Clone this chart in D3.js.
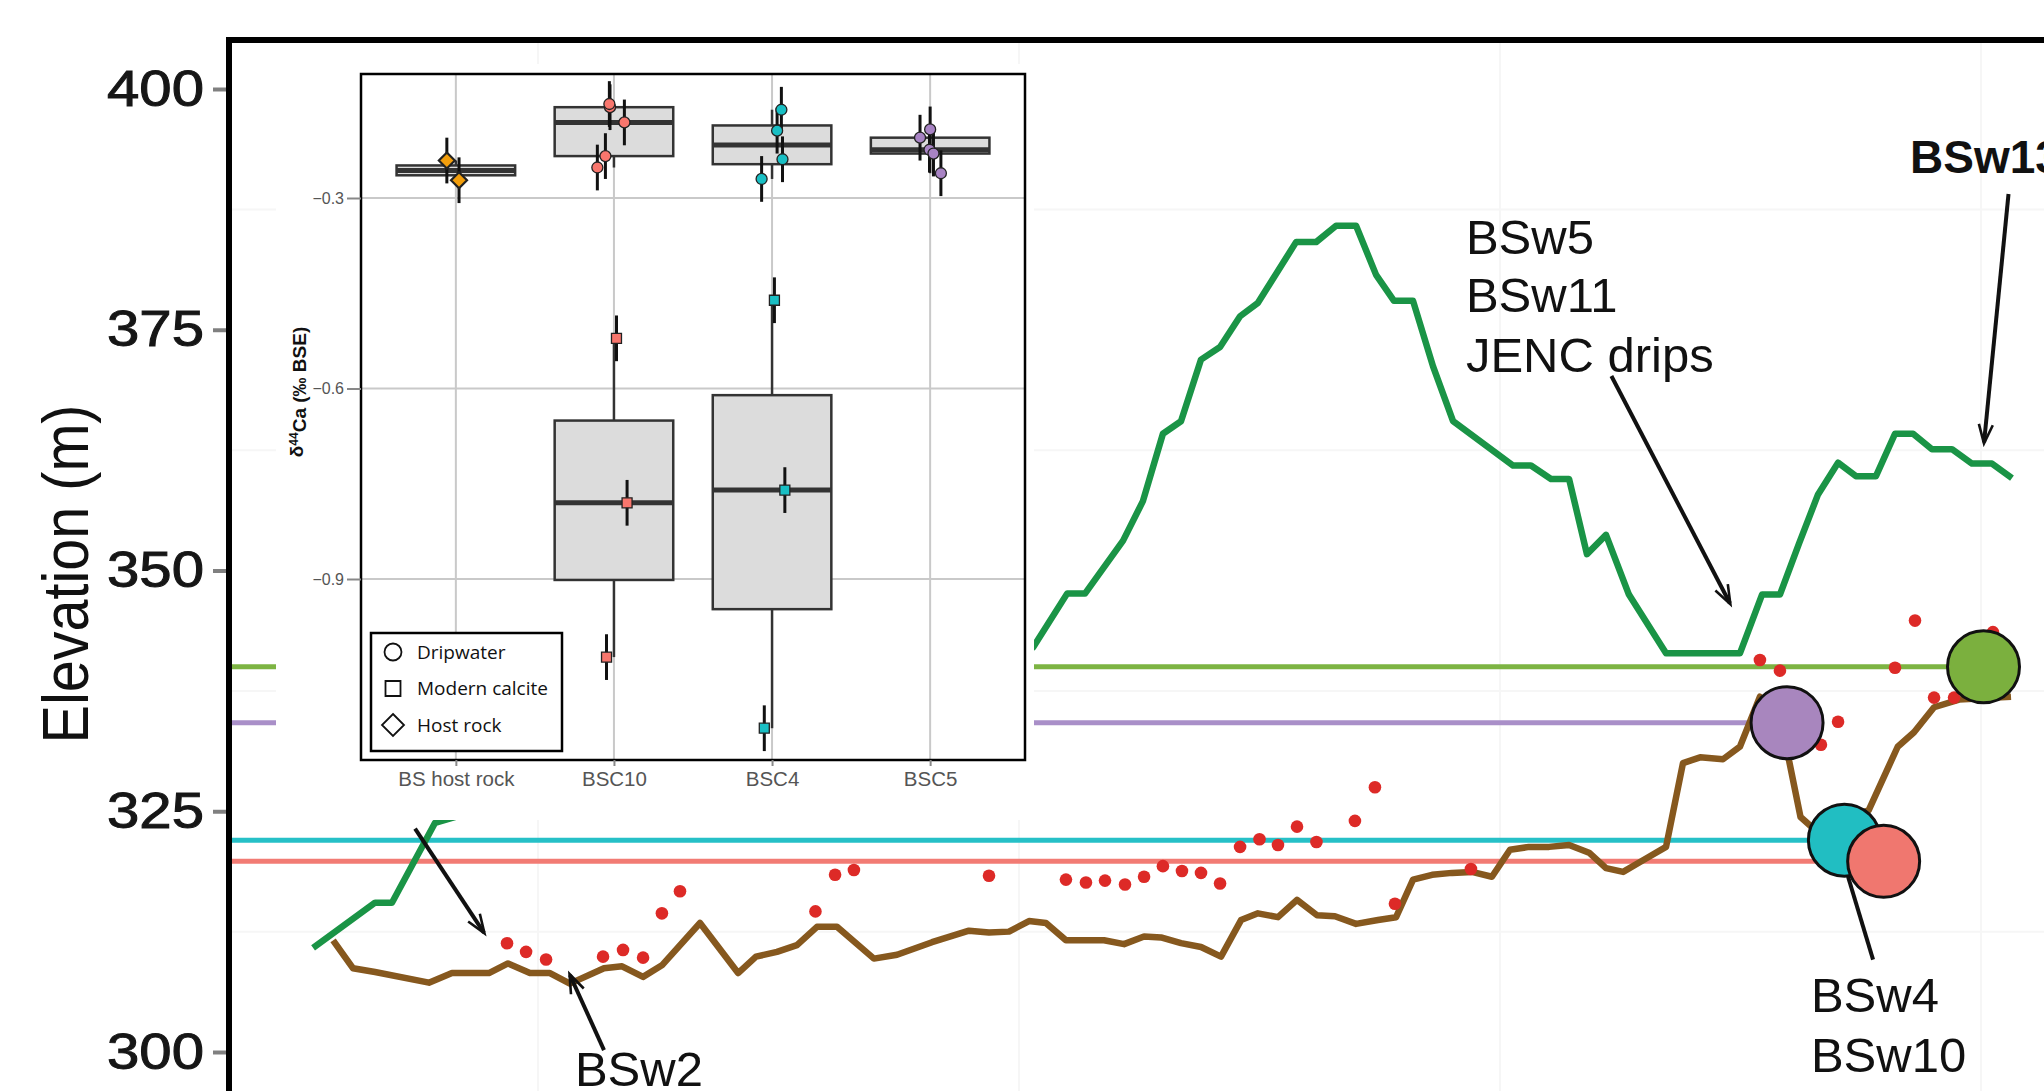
<!DOCTYPE html>
<html>
<head>
<meta charset="utf-8">
<script src="https://cdn.jsdelivr.net/npm/d3@7"></script>
<style>
  body { margin: 0; background: #fff; }
  svg { display: block; }
</style>
</head>
<body>
<svg id="chart" width="2044" height="1091"></svg>
<script>
// ---- main profile data (distance along profile, elevation in m) ----
const surfaceProfile = [
  [133.1, 310.8], [165.3, 315.5], [174.1, 315.5], [196.5, 323.8],
  [507.3, 342.0], [525.0, 347.6], [534.3, 347.6], [554.1, 353.1], [564.4, 357.2],
  [574.8, 364.2], [584.2, 365.5], [594.6, 371.9], [604.5, 373.2], [614.9, 376.4],
  [624.2, 377.8], [644.0, 384.1], [654.4, 384.1], [664.8, 385.8], [675.2, 385.8],
  [685.6, 380.7], [694.9, 378.0], [704.8, 378.0], [715.2, 371.2], [725.6, 365.5],
  [756.8, 360.9], [766.1, 360.9], [776.5, 359.5], [785.9, 359.5], [795.2, 351.7],
  [805.1, 353.7], [817.0, 347.5], [836.3, 341.4], [874.7, 341.4], [886.2, 347.5],
  [895.5, 347.5], [905.4, 352.8], [915.3, 357.9], [925.7, 361.2], [935.0, 359.8],
  [945.4, 359.8], [955.3, 364.2], [964.7, 364.2], [974.5, 362.6], [984.9, 362.6],
  [995.3, 361.1], [1005.7, 361.1], [1016.1, 359.6]
];

const caveFloor = [
  [143.5, 311.6], [153.8, 308.7], [165.3, 308.3], [193.3, 307.2], [205.3, 308.2],
  [224.5, 308.2], [234.4, 309.2], [245.8, 308.2], [256.2, 308.2], [266.6, 307.1],
  [284.3, 308.7], [293.7, 308.9], [304.6, 307.8], [314.4, 309.0], [334.2, 313.4],
  [354.0, 308.2], [363.3, 309.9], [374.2, 310.4], [384.6, 311.1], [395.0, 313.0],
  [405.4, 313.0], [424.6, 309.7], [436.6, 310.1], [454.8, 311.4], [474.0, 312.6],
  [484.4, 312.4], [494.8, 312.5], [505.2, 313.6], [514.0, 313.4], [524.4, 311.6],
  [544.2, 311.6], [554.6, 311.2], [565.0, 312.0], [573.8, 311.9], [584.2, 311.3],
  [594.6, 310.9], [605.0, 309.9], [615.4, 313.7], [624.2, 314.4], [634.6, 314.0],
  [644.5, 315.8], [654.9, 314.2], [664.2, 314.1], [675.2, 313.3], [686.6, 313.7],
  [696.0, 314.0], [704.8, 317.9], [714.7, 318.4], [725.1, 318.6], [735.4, 318.7],
  [745.8, 318.2], [755.2, 321.0], [765.1, 321.3], [775.5, 321.3], [785.9, 321.5],
  [796.3, 320.7], [805.1, 319.1], [814.0, 318.7], [825.9, 320.1], [836.3, 321.3],
  [845.1, 330.0], [854.0, 330.6], [865.9, 330.4], [874.7, 331.7], [885.1, 336.9],
  [900.2, 330.3], [906.2, 324.4], [913.5, 323.1], [941.6, 325.1], [956.7, 331.7],
  [965.2, 333.2], [975.6, 335.8], [988.6, 336.6], [1015.6, 336.9]
];

const ceilingPoints = [
  [233.9, 311.3], [243.8, 310.4], [254.2, 309.6], [283.8, 309.9], [294.2, 310.6],
  [304.6, 309.8], [314.4, 314.4], [323.8, 316.7], [394.2, 314.6], [404.4, 318.4],
  [414.2, 318.9], [484.4, 318.3], [524.4, 317.9], [534.8, 317.6], [544.7, 317.8],
  [555.1, 317.4], [565.0, 318.2], [574.8, 319.3], [584.7, 318.8], [594.6, 318.6],
  [604.5, 317.5], [614.9, 321.3], [625.0, 322.1], [634.6, 321.5], [644.5, 323.4],
  [654.6, 321.8], [674.6, 324.0], [685.0, 327.5], [695.4, 315.4], [734.9, 319.0],
  [885.1, 340.7], [895.5, 339.6], [916.8, 331.9], [925.7, 334.3], [955.3, 339.9],
  [965.7, 344.8], [975.6, 336.8], [986.0, 336.8], [1006.2, 343.6]
];

// drip sites: elevation line + marker
const siteNames = ['JENC', 'BSC5', 'BSC4', 'BSC10'];
const siteElev = [340.0, 334.2, 322.0, 319.8];
const siteDist = [1001.3, 899.2, 929.0, 949.4];
const siteColors = ['#7bb03e', '#a886be', '#21bec2', '#f0776f'];
const siteLineColors = ['#7db443', '#a98fc8', '#26c0c7', '#f27b74'];

// annotations (data coords)
const labelText = ['BSw5', 'BSw11', 'JENC drips', 'BSw13', 'BSw2', 'BSw4', 'BSw10'];
const labelPos = [[732.3, 382.9], [732.3, 376.8], [732.3, 370.6], [963.1, 391.3],
                  [269.2, 296.5], [911.6, 304.2], [911.6, 297.9]];
const labelBold = [false, false, false, true, false, false, false];
const arrowFrom = [[807.9, 370.2], [1014.3, 389.1], [284.3, 300.2], [186.1, 323.2]];
const arrowTo = [[869.5, 346.6], [1001.6, 363.3], [266.6, 308.0], [221.9, 312.4]];
const pointerFrom = [[943.9, 309.6]];
const pointerTo = [[930.9, 318.2]];

const elevTicks = [300, 325, 350, 375, 400];
const gridDist = [250, 500, 750, 1000];
const gridElev = [312.5, 337.5, 362.5, 387.5];

// ---- inset data (d44Ca, permil BSE) ----
const insetCats = ['BS host rock', 'BSC10', 'BSC4', 'BSC5'];
const insetColors = { 'BS host rock': '#f29e0c', 'BSC10': '#f8766d', 'BSC4': '#19bfc4', 'BSC5': '#a883c4' };
const insetTicks = [-0.3, -0.6, -0.9];

const hostCat = ['BS host rock', 'BS host rock'];
const hostVal = [-0.241, -0.272];
const hostErr = [0.036, 0.036];
const hostJit = [-0.057, 0.020];

const dripCat = ['BSC10', 'BSC10', 'BSC10', 'BSC10', 'BSC10',
                 'BSC4', 'BSC4', 'BSC4', 'BSC4',
                 'BSC5', 'BSC5', 'BSC5', 'BSC5', 'BSC5'];
const dripVal = [-0.157, -0.152, -0.181, -0.234, -0.252,
                 -0.161, -0.194, -0.239, -0.270,
                 -0.205, -0.192, -0.224, -0.230, -0.261];
const dripErr = [0.036, 0.036, 0.036, 0.036, 0.036,
                 0.036, 0.036, 0.036, 0.036,
                 0.036, 0.036, 0.036, 0.036, 0.036];
const dripJit = [-0.025, -0.029, 0.066, -0.054, -0.105,
                 0.059, 0.032, 0.066, -0.066,
                 -0.064, 0.000, -0.004, 0.021, 0.068];

const calciteCat = ['BSC10', 'BSC10', 'BSC10', 'BSC4', 'BSC4', 'BSC4'];
const calciteVal = [-0.521, -0.780, -1.023, -0.461, -0.760, -1.135];
const calciteErr = [0.036, 0.036, 0.036, 0.036, 0.036, 0.036];
const calciteJit = [0.016, 0.083, -0.047, 0.015, 0.081, -0.049];

const legendLabels = ['Dripwater', 'Modern calcite', 'Host rock'];

document.addEventListener('DOMContentLoaded', function () {
  drawProfile();
  drawInset();
});

const svg = d3.select('#chart');
const FONT = '"Liberation Sans", Arial, Helvetica, sans-serif';

function drawProfile() {
  const left = 229, top = 40, W = 2044, H = 1091;
  const x = d3.scaleLinear().domain([0, 1000]).range([57, 1981]);
  const y = d3.scaleLinear().domain([300, 400]).range([1052, 89]);

  const defs = svg.append('defs');
  defs.append('marker')
    .attr('id', 'arrow')
    .attr('viewBox', '0 0 10 10')
    .attr('refX', 9).attr('refY', 5)
    .attr('markerUnits', 'userSpaceOnUse')
    .attr('markerWidth', 26).attr('markerHeight', 20)
    .attr('orient', 'auto')
    .append('path')
    .attr('d', 'M0,1.5 L9.5,5 L0,8.5')
    .attr('fill', 'none')
    .attr('stroke', '#111')
    .attr('stroke-width', 1.3);

  defs.append('clipPath').attr('id', 'plotClip')
    .append('rect').attr('x', left).attr('y', top).attr('width', W - left).attr('height', H - top);

  const g = svg.append('g').attr('clip-path', 'url(#plotClip)');

  // faint grid
  g.selectAll('.gx').data(gridDist).enter().append('line')
    .attr('x1', d => x(d)).attr('x2', d => x(d))
    .attr('y1', top).attr('y2', H)
    .attr('stroke', '#f6f6f6').attr('stroke-width', 2);
  g.selectAll('.gy').data(gridElev).enter().append('line')
    .attr('x1', left).attr('x2', W)
    .attr('y1', d => y(d)).attr('y2', d => y(d))
    .attr('stroke', '#f6f6f6').attr('stroke-width', 2);

  // drip site elevation lines
  g.selectAll('.siteLine').data(siteNames).enter().append('line')
    .attr('x1', left).attr('x2', (d, i) => x(siteDist[i]))
    .attr('y1', (d, i) => y(siteElev[i])).attr('y2', (d, i) => y(siteElev[i]))
    .attr('stroke', (d, i) => siteLineColors[i])
    .attr('stroke-width', 5);

  const line = d3.line().x(d => x(d[0])).y(d => y(d[1]));

  g.append('path').datum(caveFloor)
    .attr('d', line)
    .attr('fill', 'none')
    .attr('stroke', '#86581e')
    .attr('stroke-width', 6.5)
    .attr('stroke-linejoin', 'round');

  g.append('path').datum(surfaceProfile)
    .attr('d', line)
    .attr('fill', 'none')
    .attr('stroke', '#1a9446')
    .attr('stroke-width', 6.5)
    .attr('stroke-linejoin', 'round');

  g.selectAll('.ceil').data(ceilingPoints).enter().append('circle')
    .attr('cx', d => x(d[0])).attr('cy', d => y(d[1]))
    .attr('r', 6.3)
    .attr('fill', '#dd2a27');

  const order = [0, 1, 2, 3];
  g.selectAll('.site').data(order).enter().append('circle')
    .attr('cx', i => x(siteDist[i])).attr('cy', i => y(siteElev[i]))
    .attr('r', 36)
    .attr('fill', i => siteColors[i])
    .attr('stroke', '#111')
    .attr('stroke-width', 3);

  // annotations
  g.selectAll('.arrow').data(arrowFrom).enter().append('line')
    .attr('x1', d => x(d[0])).attr('y1', d => y(d[1]))
    .attr('x2', (d, i) => x(arrowTo[i][0])).attr('y2', (d, i) => y(arrowTo[i][1]))
    .attr('stroke', '#111').attr('stroke-width', 4)
    .attr('marker-end', 'url(#arrow)');
  g.selectAll('.pointer').data(pointerFrom).enter().append('line')
    .attr('x1', d => x(d[0])).attr('y1', d => y(d[1]))
    .attr('x2', (d, i) => x(pointerTo[i][0])).attr('y2', (d, i) => y(pointerTo[i][1]))
    .attr('stroke', '#111').attr('stroke-width', 4);

  g.selectAll('.lab').data(labelText).enter().append('text')
    .attr('x', (d, i) => x(labelPos[i][0]))
    .attr('y', (d, i) => y(labelPos[i][1]))
    .style('font-family', FONT)
    .style('font-size', (d, i) => labelBold[i] ? '46px' : '49px')
    .style('font-weight', (d, i) => labelBold[i] ? 'bold' : 'normal')
    .attr('fill', '#111')
    .text(d => d);

  // frame (left + top)
  svg.append('path')
    .attr('d', `M${left},${H + 10} L${left},${top} L${W + 10},${top}`)
    .attr('fill', 'none')
    .attr('stroke', '#000')
    .attr('stroke-width', 6);

  // elevation axis
  const yAxis = d3.axisLeft(y).tickValues(elevTicks).tickSize(13).tickPadding(9);
  const ax = svg.append('g').attr('transform', `translate(${left - 3},0)`).call(yAxis);
  ax.select('.domain').remove();
  ax.selectAll('line').attr('stroke', '#808080').attr('stroke-width', 4);
  ax.selectAll('text')
    .style('font-family', FONT)
    .style('font-size', '50px')
    .attr('fill', '#161616')
    .attr('stroke', '#161616')
    .attr('stroke-width', 1)
    .attr('textLength', 97)
    .attr('lengthAdjust', 'spacingAndGlyphs');

  svg.append('text')
    .attr('transform', 'translate(88,574) rotate(-90)')
    .attr('text-anchor', 'middle')
    .style('font-family', FONT)
    .style('font-size', '64px')
    .attr('fill', '#111')
    .attr('textLength', 339)
    .attr('lengthAdjust', 'spacingAndGlyphs')
    .text('Elevation (m)');
}

function drawInset() {
  const pl = 361, pr = 1025, pt = 74, pb = 760;
  const xi = d3.scalePoint().domain(insetCats).range([pl, pr]).padding(0.6);
  const step = xi.step();
  const yi = d3.scaleLinear().domain([-0.3, -0.9]).range([198, 579]);
  const boxW = step * 0.75;

  const ins = svg.append('g');
  ins.append('rect')
    .attr('x', 276).attr('y', 64).attr('width', 758).attr('height', 756)
    .attr('fill', '#fff');

  // grid
  ins.selectAll('.vg').data(insetCats).enter().append('line')
    .attr('x1', d => xi(d)).attr('x2', d => xi(d))
    .attr('y1', pt).attr('y2', pb)
    .attr('stroke', '#c9c9c9').attr('stroke-width', 2);
  ins.selectAll('.hg').data(insetTicks).enter().append('line')
    .attr('x1', pl).attr('x2', pr)
    .attr('y1', d => yi(d)).attr('y2', d => yi(d))
    .attr('stroke', '#c9c9c9').attr('stroke-width', 2);

  // boxplots from grouped values
  function groups(cats, vals) {
    const m = d3.group(d3.range(vals.length), i => cats[i]);
    return Array.from(m, ([cat, idx]) => ({ cat, vals: idx.map(i => vals[i]).sort(d3.ascending) }));
  }
  const boxes = [].concat(groups(hostCat, hostVal), groups(dripCat, dripVal), groups(calciteCat, calciteVal))
    .map(b => {
      const q1 = d3.quantile(b.vals, 0.25), med = d3.quantile(b.vals, 0.5), q3 = d3.quantile(b.vals, 0.75);
      const iqr = q3 - q1;
      const lo = d3.min(b.vals.filter(v => v >= q1 - 1.5 * iqr));
      const hi = d3.max(b.vals.filter(v => v <= q3 + 1.5 * iqr));
      return { cat: b.cat, q1, med, q3, lo, hi };
    });

  const bg = ins.selectAll('.box').data(boxes).enter().append('g');
  bg.append('line')
    .attr('x1', d => xi(d.cat)).attr('x2', d => xi(d.cat))
    .attr('y1', d => yi(d.hi)).attr('y2', d => yi(d.q3))
    .attr('stroke', '#333').attr('stroke-width', 2.5);
  bg.append('line')
    .attr('x1', d => xi(d.cat)).attr('x2', d => xi(d.cat))
    .attr('y1', d => yi(d.q1)).attr('y2', d => yi(d.lo))
    .attr('stroke', '#333').attr('stroke-width', 2.5);
  bg.append('rect')
    .attr('x', d => xi(d.cat) - boxW / 2).attr('width', boxW)
    .attr('y', d => yi(d.q3)).attr('height', d => yi(d.q1) - yi(d.q3))
    .attr('fill', '#dcdcdc').attr('stroke', '#333').attr('stroke-width', 2.5);
  bg.append('line')
    .attr('x1', d => xi(d.cat) - boxW / 2).attr('x2', d => xi(d.cat) + boxW / 2)
    .attr('y1', d => yi(d.med)).attr('y2', d => yi(d.med))
    .attr('stroke', '#333').attr('stroke-width', 5);

  function points(cats, vals, errs, jit, shape) {
    const idx = d3.range(vals.length);
    const px = i => xi(cats[i]) + jit[i] * step;
    ins.selectAll(null).data(idx).enter().append('line')
      .attr('x1', px).attr('x2', px)
      .attr('y1', i => yi(vals[i] + errs[i])).attr('y2', i => yi(vals[i] - errs[i]))
      .attr('stroke', '#111').attr('stroke-width', 3);
    const sym = d3.symbol().type(shape === 'circle' ? d3.symbolCircle : d3.symbolSquare)
      .size(shape === 'circle' ? 95 : 100);
    const s = ins.selectAll(null).data(idx).enter().append('path')
      .attr('fill', i => insetColors[cats[i]])
      .attr('stroke', '#222').attr('stroke-width', 1.3);
    if (shape === 'diamond') {
      s.attr('d', 'M0,-8 L8,0 L0,8 L-8,0 Z').attr('stroke-width', 2.2);
    } else {
      s.attr('d', sym);
    }
    s.attr('transform', i => `translate(${px(i)},${yi(vals[i])})`);
  }
  points(hostCat, hostVal, hostErr, hostJit, 'diamond');
  points(dripCat, dripVal, dripErr, dripJit, 'circle');
  points(calciteCat, calciteVal, calciteErr, calciteJit, 'square');

  // legend
  const lg = ins.append('g');
  lg.append('rect')
    .attr('x', 371).attr('y', 633).attr('width', 191).attr('height', 118)
    .attr('fill', '#fff').attr('stroke', '#000').attr('stroke-width', 2.5);
  const ly = d3.scalePoint().domain(legendLabels).range([652, 725]);
  const shapes = ['M0,-8.5 A8.5,8.5 0 1,1 0,8.5 A8.5,8.5 0 1,1 0,-8.5 Z',
                  'M-7.5,-7.5 L7.5,-7.5 L7.5,7.5 L-7.5,7.5 Z',
                  'M0,-11 L11,0 L0,11 L-11,0 Z'];
  legendLabels.forEach((lab, i) => {
    lg.append('path')
      .attr('d', shapes[i])
      .attr('transform', `translate(393,${ly(lab)})`)
      .attr('fill', 'none').attr('stroke', '#111').attr('stroke-width', 1.8);
    lg.append('text')
      .attr('x', 417).attr('y', ly(lab)).attr('dy', '0.35em')
      .style('font-family', '"Open Sans", sans-serif')
      .style('font-size', '19px')
      .attr('fill', '#111')
      .text(lab);
  });

  // panel frame
  ins.append('rect')
    .attr('x', pl).attr('y', pt).attr('width', pr - pl).attr('height', pb - pt)
    .attr('fill', 'none').attr('stroke', '#000').attr('stroke-width', 2.5);

  // axes
  const ya = ins.append('g').attr('transform', `translate(${pl},0)`)
    .call(d3.axisLeft(yi).tickValues(insetTicks).tickFormat(d3.format('.1f')).tickSize(14).tickPadding(3));
  ya.select('.domain').remove();
  ya.selectAll('line').attr('stroke', '#888').attr('stroke-width', 2);
  ya.selectAll('text').style('font-family', FONT).style('font-size', '16px').attr('fill', '#555');

  const xa = ins.append('g').attr('transform', `translate(0,${pb})`)
    .call(d3.axisBottom(xi).tickSize(6).tickPadding(5));
  xa.select('.domain').remove();
  xa.selectAll('line').attr('stroke', '#888').attr('stroke-width', 2);
  xa.selectAll('text').style('font-family', FONT).style('font-size', '20.5px').attr('fill', '#555');

  const yl = ins.append('text')
    .attr('transform', 'translate(303,392) rotate(-90)')
    .attr('text-anchor', 'middle')
    .style('font-family', FONT)
    .style('font-size', '19px')
    .style('font-weight', 'bold')
    .attr('fill', '#111');
  yl.append('tspan').text('δ');
  yl.append('tspan').attr('dy', '-0.45em').style('font-size', '12px').text('44');
  yl.append('tspan').attr('dy', '0.45em').text('Ca (‰ BSE)');
}
</script>
</body>
</html>
